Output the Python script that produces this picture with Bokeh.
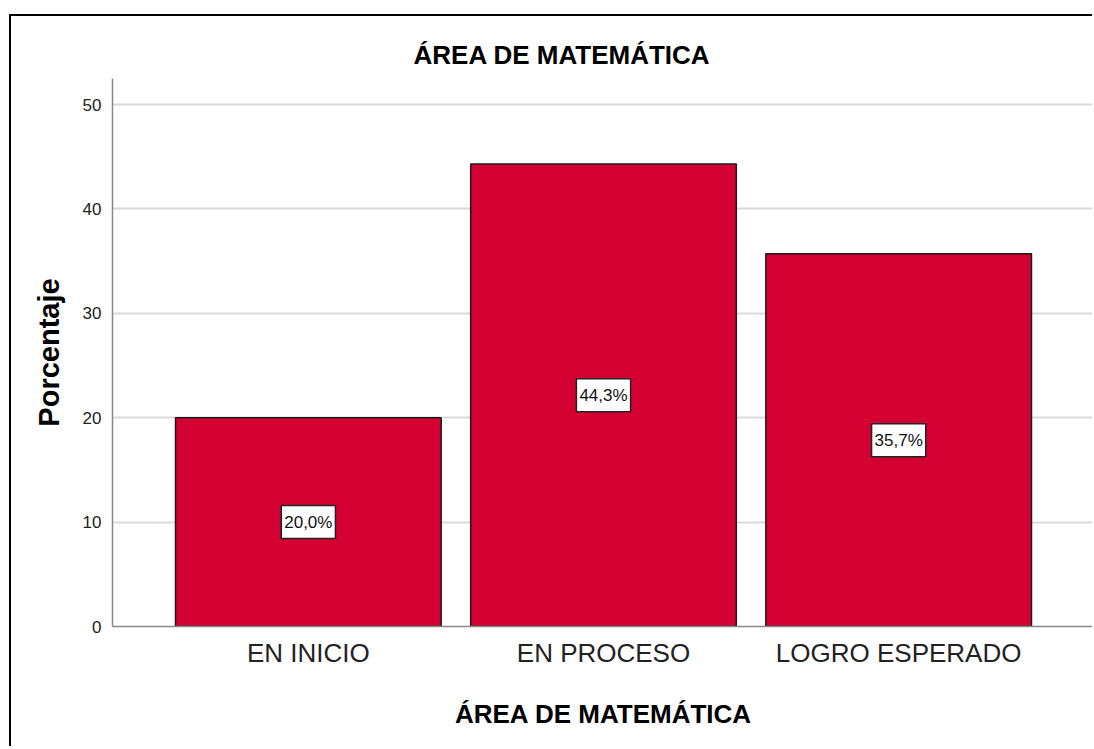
from bokeh.plotting import figure
from bokeh.models import ColumnDataSource, FactorRange, Range1d, SingleIntervalTicker, Title
from bokeh.core.properties import value
from bokeh.embed import file_html
from bokeh.resources import INLINE

categories = ["EN INICIO", "EN PROCESO", "LOGRO ESPERADO"]
percentages = [20.0, 44.3, 35.7]
label_texts = ["20,0%", "44,3%", "35,7%"]
title_text = "ÁREA DE MATEMÁTICA"
x_label = "ÁREA DE MATEMÁTICA"
y_label = "Porcentaje"

src = ColumnDataSource(dict(
    cat=categories,
    pct=percentages,
    mid=[v / 2 for v in percentages],
    lab=label_texts,
))

p = figure(
    x_range=FactorRange(*categories, range_padding=0.109),
    y_range=Range1d(0, 52.5),
    width=1083, height=732,
    output_backend="svg", toolbar_location=None,
    min_border_left=101, min_border_right=0, min_border_top=62, min_border_bottom=122,
)
# outer frame of the chart image (only top and left edges are visible)
p.margin = (14, 0, 0, 9)
p.styles = {"border-left": "2px solid black", "border-top": "2px solid black"}

p.vbar(x="cat", top="pct", width=0.9, source=src,
       fill_color="#d50032", line_color="#1a1a1a", line_width=1.5)

p.text(x="cat", y="mid", text="lab", source=src,
       text_align="center", text_baseline="middle",
       text_font=value("Liberation Sans"), text_font_size="17px",
       text_color="#111111",
       background_fill_color="white", border_line_color="#222222", border_line_width=1.5,
       padding=(3, 7))

p.outline_line_color = None
p.background_fill_color = "white"
p.border_fill_color = "white"

p.xgrid.grid_line_color = None
p.ygrid.grid_line_color = "#d9d9d9"
p.ygrid.grid_line_width = 2
p.yaxis.ticker = SingleIntervalTicker(interval=10)

for ax in (p.xaxis, p.yaxis):
    ax.axis_line_color = "#888888"
    ax.axis_line_width = 1.5
    ax.major_tick_line_color = None
    ax.minor_tick_line_color = None
    ax.major_label_text_font = "Liberation Sans"
    ax.major_label_text_color = "#222222"

p.xaxis.major_label_text_font_size = "26px"
p.xaxis.major_label_standoff = 5
p.yaxis.major_label_text_font_size = "17px"
p.yaxis.major_label_standoff = 5

p.xaxis.axis_label = x_label
p.xaxis.axis_label_text_font = "Liberation Sans"
p.xaxis.axis_label_text_font_style = "bold"
p.xaxis.axis_label_text_font_size = "26px"
p.xaxis.axis_label_text_color = "#000000"
p.xaxis.axis_label_standoff = 28

p.yaxis.axis_label = y_label
p.yaxis.axis_label_text_font = "Liberation Sans"
p.yaxis.axis_label_text_font_style = "bold"
p.yaxis.axis_label_text_font_size = "29px"
p.yaxis.axis_label_text_color = "#000000"
p.yaxis.axis_label_standoff = 15

p.title = Title(text=title_text, align="left", offset=301,
                text_font="Liberation Sans", text_font_style="bold",
                text_font_size="26px", text_color="#000000", standoff=18)

open("out.html", "w").write(file_html(p, INLINE))
